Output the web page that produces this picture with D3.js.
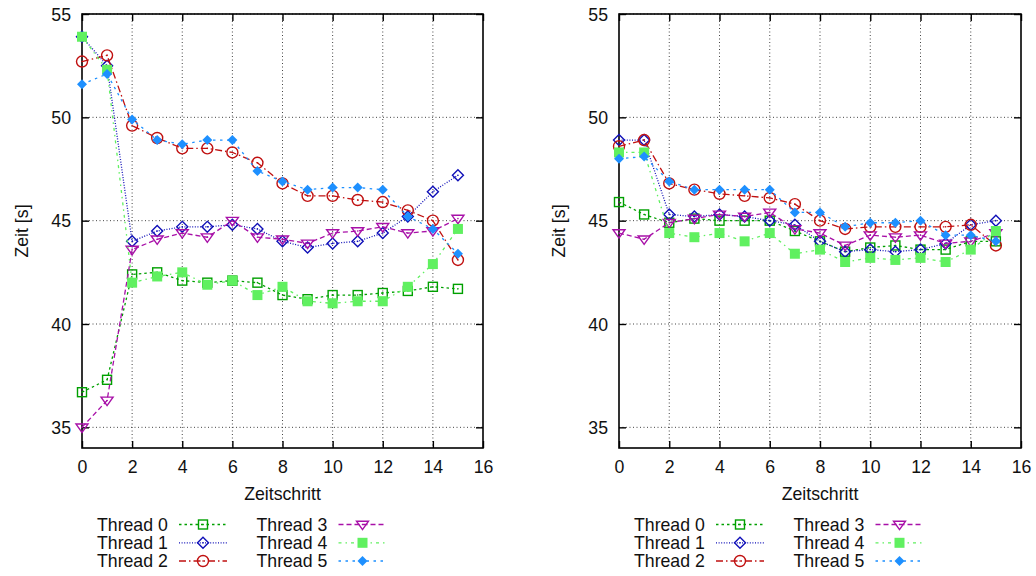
<!DOCTYPE html>
<html><head><meta charset="utf-8">
<script src="https://cdn.jsdelivr.net/npm/d3@7"></script>
<style>
html,body{margin:0;padding:0;background:#fff;}
svg text{font-family:"Liberation Sans",Arial,Helvetica,sans-serif;fill:#111;}
</style></head>
<body>
<svg id="chart" width="1036" height="576"></svg>
<script>
const steps = [0,1,2,3,4,5,6,7,8,9,10,11,12,13,14,15];
const threadNames = ["Thread 0","Thread 1","Thread 2","Thread 3","Thread 4","Thread 5"];
const xTicks = [0,2,4,6,8,10,12,14,16];
const yTicks = [35,40,45,50,55];
const xLabel = "Zeitschritt";
const yLabel = "Zeit [s]";

// left panel
const leftThread0 = [36.7,37.3,42.4,42.5,42.1,42.0,42.1,42.0,41.4,41.2,41.4,41.4,41.5,41.6,41.8,41.7];
const leftThread1 = [53.9,52.5,44.0,44.5,44.7,44.7,44.8,44.6,44.0,43.7,43.9,44.0,44.4,45.2,46.4,47.2];
const leftThread2 = [52.7,53.0,49.6,49.0,48.5,48.5,48.3,47.8,46.8,46.2,46.2,46.0,45.9,45.5,45.0,43.1];
const leftThread3 = [35.0,36.3,43.6,44.1,44.4,44.2,45.0,44.2,44.1,43.9,44.4,44.5,44.7,44.4,44.5,45.1];
const leftThread4 = [53.9,52.3,42.0,42.3,42.5,41.9,42.1,41.4,41.8,41.1,41.0,41.1,41.1,41.8,42.9,44.6];
const leftThread5 = [51.6,52.1,49.9,48.9,48.7,48.9,48.9,47.4,46.9,46.5,46.6,46.6,46.5,45.2,44.6,43.4];

// right panel
const rightThread0 = [45.9,45.3,44.9,45.1,45.0,45.0,45.0,44.5,44.0,43.5,43.7,43.8,43.6,43.6,44.0,44.0];
const rightThread1 = [48.9,48.9,45.3,45.2,45.3,45.2,45.0,44.8,44.0,43.5,43.6,43.5,43.6,43.9,44.8,45.0];
const rightThread2 = [48.6,48.9,46.8,46.5,46.3,46.2,46.1,45.8,45.0,44.6,44.7,44.7,44.7,44.7,44.8,43.8];
const rightThread3 = [44.4,44.1,44.9,45.1,45.3,45.2,45.4,44.6,44.4,43.8,44.3,44.2,44.3,43.9,44.0,44.4];
const rightThread4 = [48.3,48.3,44.4,44.2,44.4,44.0,44.4,43.4,43.6,43.0,43.2,43.1,43.2,43.0,43.6,44.5];
const rightThread5 = [48.0,48.1,46.9,46.5,46.5,46.5,46.5,45.4,45.4,44.7,44.9,44.9,45.0,44.3,44.3,44.0];

const styles = [
  {color:"#00a000", dash:"2.5,3",       shape:"square",   fill:false},
  {color:"#1010b8", dash:"1,1.6",       shape:"diamond",  fill:false},
  {color:"#c01010", dash:"7,3,1.5,3",   shape:"circle",   fill:false},
  {color:"#a810a8", dash:"5,3",         shape:"triangle", fill:false},
  {color:"#60f060", dash:"3,4,1.5,4",   shape:"square",   fill:true},
  {color:"#1e90ff", dash:"2.5,4.5",     shape:"diamond",  fill:true}
];

const FS = 17.7;
const svg = d3.select("#chart");

function marker(g, shape, filled, color, cx, cy){
  let el;
  if(shape==="square"){
    const s = filled ? 10 : 9;
    el = g.append("rect").attr("x",cx-s/2).attr("y",cy-s/2).attr("width",s).attr("height",s);
  } else if(shape==="diamond"){
    const r = filled ? 5 : 5.5;
    el = g.append("path").attr("d",`M${cx},${cy-r}L${cx+r},${cy}L${cx},${cy+r}L${cx-r},${cy}Z`);
  } else if(shape==="circle"){
    el = g.append("circle").attr("cx",cx).attr("cy",cy).attr("r",5.5);
  } else if(shape==="triangle"){
    const r = 6;
    el = g.append("path").attr("d",`M${cx-r},${cy-r*0.55}L${cx+r},${cy-r*0.55}L${cx},${cy+r*0.85}Z`);
  }
  if(filled){ el.attr("fill",color).attr("stroke","none"); }
  else {
    el.attr("fill","none").attr("stroke",color).attr("stroke-width",1.4);
    g.append("circle").attr("cx",cx).attr("cy",cy).attr("r",0.8).attr("fill",color);
  }
}

function panel(x0, x1, series){
  const x = d3.scaleLinear().domain([0,16]).range([x0,x1]);
  const y = d3.scaleLinear().domain([34,55]).range([448,14]);
  const g = svg.append("g");
  const top = y(55), bot = y(34);

  // grid
  g.selectAll(".gx").data(xTicks.slice(1,-1)).enter().append("line")
    .attr("x1",d=>x(d)).attr("x2",d=>x(d)).attr("y1",top).attr("y2",bot)
    .attr("stroke","#444").attr("stroke-width",1).attr("stroke-dasharray","1,2.5");
  g.selectAll(".gy").data(yTicks).enter().append("line")
    .attr("x1",x0).attr("x2",x1).attr("y1",d=>y(d)).attr("y2",d=>y(d))
    .attr("stroke","#444").attr("stroke-width",1).attr("stroke-dasharray","1,2.5");

  // axes via d3 (ticks inward)
  const axB = g.append("g").attr("transform",`translate(0,${bot})`)
    .call(d3.axisBottom(x).tickValues(xTicks).tickSizeInner(-7).tickSizeOuter(0).tickPadding(16));
  const axT = g.append("g").attr("transform",`translate(0,${top})`)
    .call(d3.axisTop(x).tickValues(xTicks).tickSizeInner(-7).tickSizeOuter(0).tickFormat(""));
  const axL = g.append("g").attr("transform",`translate(${x0},0)`)
    .call(d3.axisLeft(y).tickValues(yTicks).tickSizeInner(-7).tickSizeOuter(0).tickPadding(11));
  const axR = g.append("g").attr("transform",`translate(${x1},0)`)
    .call(d3.axisRight(y).tickValues(yTicks).tickSizeInner(-7).tickSizeOuter(0).tickFormat(""));
  [axB,axT,axL,axR].forEach(a=>{
    a.select(".domain").remove();
    a.selectAll(".tick line").attr("stroke","#000").attr("stroke-width",1.4);
    a.selectAll("text").attr("font-size",FS).attr("fill","#111")
      .style("font-family",'"Liberation Sans",Arial,sans-serif');
  });
  axB.selectAll("text").attr("dy","0.32em").attr("y",19);
  axL.selectAll("text").attr("dy","0.35em");

  // border
  g.append("rect").attr("x",x0).attr("y",top).attr("width",x1-x0).attr("height",bot-top)
    .attr("fill","none").attr("stroke","#000").attr("stroke-width",1.6);

  // series
  series.forEach((vals,i)=>{
    const st = styles[i];
    const line = d3.line().x((d,j)=>x(steps[j])).y(d=>y(d));
    g.append("path").datum(vals).attr("d",line).attr("fill","none")
      .attr("stroke",st.color).attr("stroke-width",1.3).attr("stroke-dasharray",st.dash);
    const mg = g.append("g");
    vals.forEach((v,j)=>marker(mg, st.shape, st.fill, st.color, x(steps[j]), y(v)));
  });

  // labels
  g.append("text").attr("x",(x0+x1)/2).attr("y",494).attr("dy","0.35em")
    .attr("text-anchor","middle").attr("font-size",FS).text(xLabel);
  g.append("text").attr("transform",`translate(${x0-60},${(top+bot)/2}) rotate(-90)`)
    .attr("dy","0.35em").attr("text-anchor","middle").attr("font-size",FS).text(yLabel);

  // legend
  const rows = [524.5, 542.8, 561];
  threadNames.forEach((name,i)=>{
    const col = Math.floor(i/3), row = i%3;
    const tx = x0 + 15 + col*159.5;
    const ly = rows[row];
    g.append("text").attr("x",tx).attr("y",ly).attr("dy","0.35em")
      .attr("font-size",FS).text(name);
    const lx1 = tx + 82, lx2 = tx + 130;
    const st = styles[i];
    g.append("line").attr("x1",lx1).attr("x2",lx2).attr("y1",ly).attr("y2",ly)
      .attr("stroke",st.color).attr("stroke-width",1.3).attr("stroke-dasharray",st.dash);
    marker(g, st.shape, st.fill, st.color, (lx1+lx2)/2, ly);
  });
}

panel(82, 483, [leftThread0,leftThread1,leftThread2,leftThread3,leftThread4,leftThread5]);
panel(619, 1021, [rightThread0,rightThread1,rightThread2,rightThread3,rightThread4,rightThread5]);
</script>
</body></html>
